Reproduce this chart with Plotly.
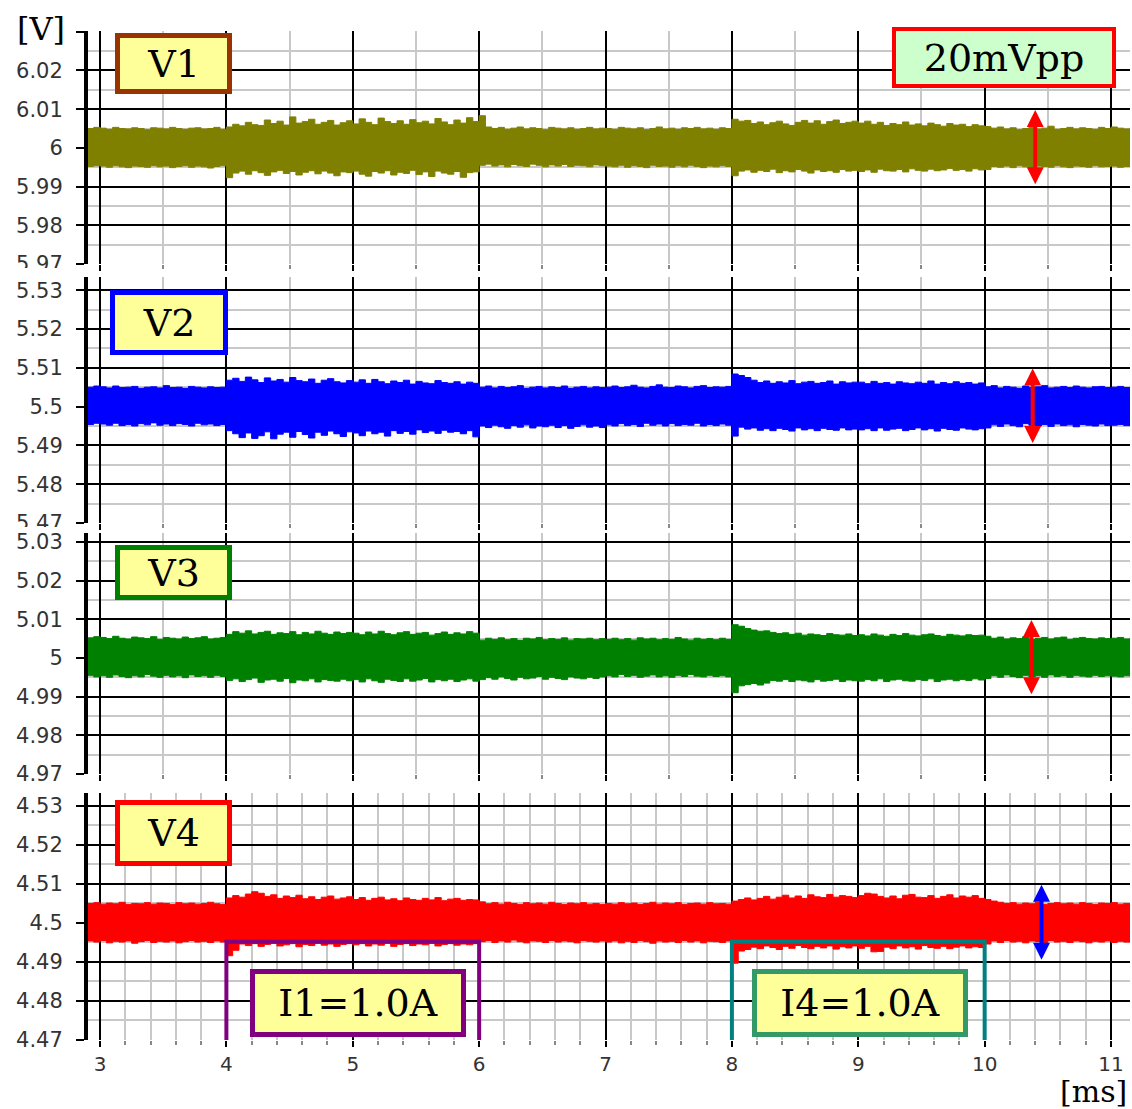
import plotly.graph_objects as go
from plotly.subplots import make_subplots

# ---------------- data ----------------
# envelopes sampled every 0.05 ms starting at 2.90 ms; values are the offset
# from the nominal voltage in mV (upper / lower edge of the ripple band)
T0, DT = 2.9, 0.05

NAMES = ["V1", "V2", "V3", "V4"]
NOMINAL = [6.0, 5.5, 5.0, 4.5]           # [V]
COLORS = ["#808000", "#0000FF", "#008000", "#FF0000"]

V1_UP = [5.0, 5.3,
         5.1, 4.8, 5.3, 5.0, 4.9, 5.2, 5.0, 4.7, 5.2, 5.1, 4.9, 5.3, 5.0, 4.8, 5.1, 5.2, 4.9, 5.0, 5.3, 4.8,
         5.4, 6.1, 5.7, 6.6, 6.0, 5.8, 7.2, 6.3, 6.9, 5.9, 8.0, 6.4, 6.8, 7.4, 6.1, 6.6, 7.1, 5.9, 6.5, 7.0,
         6.2, 7.5, 6.6, 6.0, 7.7, 6.8, 6.3, 7.0, 6.1, 7.3, 6.5, 6.9, 6.2, 7.6, 6.7, 6.0, 7.2, 6.4, 7.8, 6.8,
         8.3, 5.4, 5.0, 5.3, 4.8, 5.1, 5.4, 4.9, 5.2, 5.0, 4.7, 5.3, 5.1, 4.9, 5.2, 4.8, 5.0, 5.3, 4.9, 5.1,
         5.0, 4.8, 5.3, 5.1, 4.9, 5.2, 4.7, 5.0, 5.4, 4.9, 5.1, 4.8, 5.2, 5.0, 5.3, 4.9, 5.1, 4.8, 5.2, 5.0,
         7.4, 6.9, 7.1, 6.3, 6.7, 6.0, 6.5, 6.9, 6.2, 5.8, 6.6, 7.1, 6.4, 7.0, 6.1, 6.8, 7.2, 6.3, 6.6, 6.9,
         6.4, 6.9, 6.1, 6.6, 5.8, 6.3, 6.0, 6.7, 5.9, 6.2, 5.7, 6.4, 6.0, 5.6, 6.3, 5.9, 6.1, 5.5, 6.0, 5.7,
         5.5, 5.1, 5.4, 4.9, 5.2, 4.7, 5.0, 5.3, 4.9, 5.1, 5.6, 4.8, 5.0, 5.3, 4.9, 5.2, 5.0, 4.8, 5.3, 5.0,
         5.4, 5.1, 4.9, 5.2, 5.0]
V1_LO = [-4.8, -4.6,
         -4.7, -5.0, -4.6, -4.9, -5.1, -4.7, -4.8, -5.0, -4.6, -4.9, -4.7, -5.1, -4.8, -4.6, -5.0, -4.7, -4.9, -5.2, -4.8, -4.6,
         -7.7, -6.5, -6.0, -6.8, -5.9, -6.4, -7.1, -6.2, -5.8, -6.6, -6.1, -7.0, -6.3, -5.9, -6.7, -6.0, -6.5, -7.2, -6.2, -6.4,
         -6.0, -6.8, -7.3, -6.1, -6.5, -5.9, -7.0, -6.3, -6.6, -5.8, -6.9, -6.2, -7.4, -6.0, -6.5, -6.8, -6.1, -7.6, -6.4, -6.2,
         -4.5, -4.2, -4.7, -4.4, -4.9, -4.3, -4.6, -4.8, -4.2, -4.5, -4.9, -4.4, -4.7, -4.3, -4.8, -4.5, -4.6, -4.9, -4.4, -4.6,
         -4.7, -4.9, -4.5, -5.0, -4.6, -4.8, -5.1, -4.5, -4.8, -4.7, -5.0, -4.6, -4.9, -4.5, -4.8, -5.1, -4.7, -4.9, -4.6, -4.8,
         -7.2, -6.0, -5.7, -6.3, -5.8, -6.1, -5.5, -6.4, -5.9, -6.2, -5.6, -6.0, -6.5, -5.7, -6.1, -5.9, -6.3, -5.6, -6.0, -5.8,
         -6.1, -5.7, -6.3, -5.5, -5.9, -6.0, -5.6, -6.2, -5.4, -5.8, -6.0, -5.5, -5.9, -5.7, -5.3, -5.8, -5.6, -6.0, -5.4, -5.7,
         -5.6, -4.8, -5.0, -4.7, -5.1, -4.6, -4.9, -5.2, -4.7, -4.8, -5.0, -4.6, -4.9, -5.1, -4.7, -4.8, -5.0, -4.6, -4.9, -4.8,
         -4.7, -5.0, -4.8, -4.9, -4.7]

V2_UP = [5.0, 5.3,
         5.1, 4.8, 5.3, 4.9, 5.0, 5.2, 4.7, 5.0, 5.1, 4.8, 5.4, 4.9, 5.0, 4.7, 5.2, 5.0, 4.8, 5.1, 4.9, 5.0,
         6.8, 7.3, 6.5, 7.6, 6.9, 6.2, 7.4, 6.6, 7.0, 6.3, 7.5, 6.7, 6.4, 7.1, 6.0, 6.8, 7.2, 6.4, 6.1, 6.7,
         6.3, 6.9, 6.0, 7.0, 6.4, 5.9, 6.6, 6.2, 6.8, 5.8, 6.5, 6.1, 5.9, 6.7, 6.2, 6.0, 6.4, 5.8, 6.3, 6.0,
         5.0, 5.3, 4.8, 5.2, 4.9, 5.1, 5.4, 4.7, 5.0, 5.2, 4.8, 5.1, 4.9, 5.3, 4.7, 5.0, 5.2, 4.8, 5.1, 4.9,
         5.0, 5.3, 4.9, 5.1, 5.5, 5.0, 4.8, 5.2, 5.6, 5.0, 4.9, 5.3, 5.1, 4.8, 5.2, 5.4, 4.9, 5.1, 5.0, 5.2,
         8.4, 8.0, 7.5, 6.8, 6.2, 6.6, 6.0, 6.4, 6.1, 6.7, 5.9, 6.3, 6.5, 6.0, 6.2, 6.6, 5.8, 6.4, 6.1, 6.3,
         6.3, 5.9, 6.5, 6.0, 6.2, 5.8, 6.4, 6.1, 5.9, 6.3, 6.0, 6.6, 5.8, 6.2, 5.9, 6.4, 6.0, 6.2, 5.8, 6.1,
         5.1, 5.4, 4.8, 5.2, 5.0, 4.7, 5.3, 4.9, 5.1, 5.4, 4.8, 5.0, 5.2, 4.9, 5.3, 5.0, 4.8, 5.1, 5.2, 4.9,
         5.0, 5.2, 4.9, 5.1, 5.0]
V2_LO = [-4.6, -4.3,
         -4.5, -4.8, -4.3, -4.9, -4.6, -5.0, -4.4, -4.7, -4.2, -4.8, -4.5, -4.9, -4.4, -4.6, -5.0, -4.3, -4.7, -4.5, -4.9, -4.6,
         -6.2, -7.0, -8.0, -6.8, -8.2, -7.5, -6.5, -8.3, -7.1, -6.6, -7.9, -6.4, -7.2, -8.1, -6.6, -7.4, -6.3, -7.0, -7.7, -6.5,
         -6.8, -7.5, -6.3, -7.0, -6.6, -7.6, -6.2, -6.9, -6.4, -7.1, -6.0, -6.7, -6.3, -6.9, -6.1, -6.6, -6.4, -7.0, -6.2, -7.8,
         -5.0, -5.4, -4.8, -5.2, -5.6, -4.9, -5.3, -4.7, -5.5, -5.0, -5.2, -4.8, -5.4, -4.9, -5.6, -5.1, -4.7, -5.3, -5.0, -5.4,
         -4.7, -5.0, -4.4, -4.9, -4.6, -5.1, -4.3, -4.8, -4.5, -5.0, -4.4, -4.9, -4.6, -4.8, -4.3, -5.0, -4.6, -4.9, -4.5, -4.8,
         -7.6, -5.3, -5.8, -5.5, -6.1, -5.7, -6.2, -5.6, -5.9, -6.3, -5.5, -6.0, -5.7, -6.2, -5.6, -5.9, -6.1, -5.5, -6.0, -5.8,
         -6.0, -5.7, -6.2, -5.5, -6.1, -5.8, -5.6, -6.2, -5.9, -5.5, -6.0, -5.7, -6.3, -5.6, -5.9, -6.1, -5.5, -5.8, -6.0, -5.7,
         -5.5, -4.7, -5.1, -4.5, -4.9, -5.2, -4.4, -4.8, -5.0, -4.6, -5.1, -4.5, -4.9, -4.7, -5.2, -4.6, -4.8, -5.0, -4.5, -4.9,
         -4.8, -4.6, -4.9, -4.7, -4.8]

V3_UP = [5.2, 5.5,
         5.3, 5.0, 5.6, 5.1, 4.9, 5.4, 5.2, 5.0, 5.5, 4.8, 5.3, 5.1, 4.9, 5.4, 5.0, 5.2, 5.5, 4.9, 5.1, 5.3,
         6.1, 6.8, 6.4, 7.0, 6.2, 6.6, 6.9, 6.1, 6.5, 6.3, 6.8, 6.0, 6.6, 6.2, 6.9, 6.4, 6.1, 6.7, 6.3, 6.6,
         6.4, 6.0, 6.7, 6.2, 6.9, 6.3, 6.0, 6.5, 6.8, 6.1, 6.4, 6.6, 5.9, 6.3, 6.7, 6.1, 6.5, 6.2, 6.8, 6.4,
         4.6, 5.1, 4.8, 5.2, 4.7, 5.0, 4.5, 5.1, 4.9, 5.3, 4.7, 5.0, 4.8, 5.2, 4.6, 5.0, 4.9, 5.1, 4.7, 5.0,
         4.8, 5.1, 4.7, 5.0, 4.6, 5.2, 4.9, 5.1, 4.7, 5.0, 4.8, 5.3, 4.9, 4.6, 5.1, 4.8, 5.0, 4.7, 5.1, 4.8,
         8.6, 8.2, 7.6, 7.2, 6.9, 7.0, 6.6, 6.3, 6.5, 6.1, 6.4, 5.9, 6.2, 6.0, 5.8, 6.3, 6.0, 5.9, 6.2, 5.8,
         6.0, 5.7, 6.2, 5.9, 5.6, 6.1, 5.8, 6.3, 5.9, 5.7, 6.0, 6.2, 5.8, 5.6, 6.1, 5.9, 5.7, 6.0, 5.8, 5.9,
         5.6, 5.1, 5.4, 4.9, 5.2, 5.0, 5.5, 4.8, 5.1, 5.3, 4.9, 5.2, 5.4, 4.8, 5.1, 5.3, 5.0, 4.9, 5.2, 5.0,
         5.1, 5.3, 4.9, 5.2, 5.0]
V3_LO = [-4.5, -4.9,
         -4.6, -5.0, -4.4, -4.8, -5.1, -4.6, -4.9, -4.3, -4.7, -5.0, -4.5, -4.9, -4.6, -5.1, -4.4, -4.8, -4.6, -5.0, -4.5, -4.8,
         -5.8, -5.4, -6.1, -5.6, -5.2, -6.3, -5.7, -5.5, -6.0, -5.3, -6.4, -5.7, -5.9, -5.4, -6.2, -5.6, -5.8, -6.0, -5.5, -5.9,
         -5.6, -6.2, -5.4, -5.9, -6.3, -5.5, -5.8, -6.1, -5.4, -6.0, -5.7, -5.3, -6.2, -5.6, -5.9, -5.5, -6.1, -5.7, -5.4, -6.0,
         -5.6, -5.1, -5.5, -4.9, -5.3, -5.7, -5.0, -5.4, -5.2, -4.8, -5.5, -5.0, -5.3, -5.6, -4.9, -5.2, -5.4, -5.0, -5.3, -4.9,
         -4.6, -4.9, -4.3, -4.8, -4.5, -5.0, -4.7, -4.4, -4.9, -4.6, -5.0, -4.5, -4.8, -4.3, -4.7, -4.9, -4.5, -4.8, -4.6, -4.9,
         -9.0, -7.2, -6.9, -6.6, -7.0, -6.5, -5.8, -6.0, -5.6, -6.1, -5.7, -5.9, -6.2, -5.6, -6.0, -5.8, -5.5, -6.1, -5.7, -5.9,
         -6.0, -5.6, -5.9, -5.4, -6.1, -5.7, -5.5, -5.9, -6.0, -5.6, -5.8, -5.4, -6.1, -5.7, -5.5, -5.9, -5.6, -5.8, -5.4, -5.7,
         -5.3, -4.6, -5.0, -4.4, -4.8, -5.1, -4.5, -4.9, -4.6, -5.0, -4.4, -4.8, -4.6, -5.0, -4.5, -4.7, -4.9, -4.5, -4.8, -4.6,
         -4.7, -4.9, -4.6, -4.8, -4.7]

V4_UP = [5.0, 5.2,
         4.8, 5.1, 4.9, 5.3, 4.7, 5.0, 4.9, 5.2, 4.8, 5.1, 5.0, 4.7, 5.2, 4.9, 5.1, 4.8, 5.0, 5.3, 4.9, 4.7,
         6.4, 7.0, 6.6, 7.4, 8.0, 7.6, 6.8, 7.2, 6.3, 6.9, 6.5, 7.1, 6.2, 6.7, 6.0, 6.6, 6.9, 6.1, 6.4, 6.7,
         6.0, 6.5, 5.8, 6.3, 6.6, 5.9, 6.2, 5.7, 6.4, 6.0, 5.8, 6.3, 5.9, 6.5, 5.7, 6.1, 6.3, 5.8, 6.0, 5.9,
         5.4, 4.9, 5.2, 4.8, 5.3, 5.0, 4.7, 5.2, 4.9, 5.1, 4.8, 5.3, 5.0, 4.7, 5.1, 4.9, 5.2, 4.8, 5.0, 4.7,
         5.0, 4.8, 5.2, 4.9, 5.1, 4.7, 5.0, 5.3, 4.8, 5.1, 4.9, 5.2, 4.7, 5.0, 5.1, 4.8, 5.2, 4.9, 5.0, 4.8,
         5.6, 6.0, 6.4, 5.9, 6.3, 6.8, 6.1, 6.6, 7.1, 6.4, 6.9, 6.3, 7.2, 6.7, 6.5, 7.3, 6.6, 7.0, 6.8, 6.5,
         7.0, 7.6, 7.4, 6.8, 6.4, 6.9, 6.2, 7.1, 7.3, 6.6, 6.5, 7.0, 6.3, 6.8, 7.2, 6.4, 6.9, 6.6, 7.0, 6.3,
         6.0, 5.6, 5.3, 5.0, 5.2, 4.8, 5.1, 4.9, 5.3, 4.7, 5.0, 5.2, 4.9, 5.1, 4.8, 5.2, 5.0, 4.7, 5.1, 5.0,
         5.2, 4.8, 5.0, 4.9, 5.1]
V4_LO = [-4.6, -4.9,
         -4.5, -5.1, -4.7, -4.9, -4.6, -5.2, -4.8, -4.5, -5.0, -4.7, -4.9, -4.6, -5.1, -4.8, -4.5, -4.9, -4.7, -5.0, -4.6, -4.9,
         -8.4, -7.0, -5.4, -5.8, -5.3, -6.0, -5.5, -5.2, -5.9, -5.6, -5.3, -6.1, -5.5, -5.8, -5.2, -5.7, -5.4, -6.0, -5.5, -5.3,
         -5.6, -5.3, -5.9, -5.4, -5.7, -5.2, -6.0, -5.5, -5.3, -5.8, -5.4, -5.6, -5.2, -5.9, -5.5, -5.3, -5.7, -5.4, -5.6, -5.3,
         -4.8, -4.5, -5.0, -4.6, -4.9, -4.4, -4.8, -5.1, -4.6, -4.7, -5.0, -4.5, -4.9, -4.6, -4.8, -5.1, -4.5, -4.7, -4.9, -4.6,
         -4.9, -4.6, -5.1, -4.7, -5.0, -4.5, -4.8, -5.2, -4.6, -4.9, -4.7, -5.0, -4.5, -4.9, -4.6, -5.1, -4.7, -4.8, -5.0, -4.6,
         -10.3, -7.2, -6.8, -6.2, -6.6, -5.9, -6.3, -6.8, -6.0, -6.5, -5.8, -6.3, -6.6, -6.0, -6.4, -5.9, -6.7, -6.1, -6.4, -5.9,
         -6.5, -6.0, -7.4, -7.3, -6.2, -6.6, -5.9, -6.4, -6.1, -6.7, -5.8, -6.3, -6.5, -6.0, -6.6, -6.2, -5.9, -6.4, -6.1, -6.3,
         -5.4, -4.6, -5.0, -4.5, -4.9, -4.7, -5.1, -4.6, -4.8, -5.0, -4.5, -4.9, -4.7, -5.0, -4.6, -4.8, -5.1, -4.7, -4.9, -4.6,
         -5.0, -4.7, -4.9, -4.8, -4.7]

UPPER = [V1_UP, V2_UP, V3_UP, V4_UP]
LOWER = [V1_LO, V2_LO, V3_LO, V4_LO]

# tick labels
X_TICKS = [3, 4, 5, 6, 7, 8, 9, 10, 11]
X_LABELS = ["3", "4", "5", "6", "7", "8", "9", "10", "11"]
Y_LABELS = [
    ["5.97", "5.98", "5.99", "6", "6.01", "6.02", ""],
    ["5.47", "5.48", "5.49", "5.5", "5.51", "5.52", "5.53"],
    ["4.97", "4.98", "4.99", "5", "5.01", "5.02", "5.03"],
    ["4.47", "4.48", "4.49", "4.5", "4.51", "4.52", "4.53"],
]
PP_LABEL = "20mVpp"
LOAD_LABELS = ["I1=1.0A", "I4=1.0A"]
LOAD_SPANS = [(4, 6), (8, 10)]      # ms
PP_ARROW_X = [10.4, 10.38, 10.37, 10.45]

# ---------------- layout geometry ----------------
W, H = 1132, 1109
ML, MR = 88, 2
PW = W - ML - MR
PANEL_PX = [(31, 264), (277, 523), (533, 774), (793, 1040)]   # top, bottom pixel
Y_TOP_OFF = [0.0302, 0.0334, 0.0323, 0.0333]
X_RANGE = [2.905, 11.15]


def px(xp):
    return (xp - ML) / PW


def py(yp):
    return 1 - yp / H


fig = make_subplots(rows=4, cols=1, shared_xaxes=False, vertical_spacing=0.01)

for i in range(4):
    n = NOMINAL[i]
    c = COLORS[i]
    up, lo = UPPER[i], LOWER[i]
    fig.add_trace(go.Scatter(x=[round(T0 + DT * k, 2) for k in range(len(up))],
                             y=[n + u / 1000 for u in up], mode="lines",
                             line=dict(color=c, width=1, shape="hv"),
                             hoverinfo="skip", showlegend=False), row=i + 1, col=1)
    fig.add_trace(go.Scatter(x=[round(T0 + DT * k, 2) for k in range(len(lo))],
                             y=[n + l / 1000 for l in lo], mode="lines",
                             line=dict(color=c, width=1, shape="hv"),
                             fill="tonexty", fillcolor=c,
                             hoverinfo="skip", showlegend=False), row=i + 1, col=1)

ytickfont = dict(family="DejaVu Sans", size=21, color="#333333")
xtickfont = dict(family="DejaVu Sans", size=20, color="#333333")

for i in range(4):
    n = NOMINAL[i]
    top, bot = PANEL_PX[i]
    ax = "" if i == 0 else str(i + 1)
    last = (i == 3)
    fig.layout["xaxis" + ax].update(
        domain=[0, 1], range=X_RANGE, tickmode="array", tickvals=X_TICKS,
        ticktext=X_LABELS, showticklabels=last, tickfont=xtickfont,
        showgrid=True, gridcolor="black", gridwidth=2,
        ticks="outside", ticklen=6, tickwidth=2, tickcolor="black",
        minor=dict(tick0=3, dtick=0.2 if last else 0.5, showgrid=True,
                   gridcolor="#C8C8C8", gridwidth=2, ticks="outside",
                   ticklen=4, tickcolor="#888888"),
        zeroline=False, showline=False, fixedrange=True,
    )
    fig.layout["yaxis" + ax].update(
        domain=[py(bot), py(top)], range=[n - 0.03, n + Y_TOP_OFF[i]],
        tickmode="array", tickvals=[round(n - 0.03 + 0.01 * k, 3) for k in range(7)],
        ticktext=Y_LABELS[i], tickfont=ytickfont,
        showgrid=True, gridcolor="black", gridwidth=2,
        ticks="outside", ticklen=8, tickwidth=2, tickcolor="black",
        ticklabelstandoff=9,
        minor=dict(dtick=0.005, tick0=n, showgrid=True, gridcolor="#C8C8C8", gridwidth=2),
        zeroline=False, showline=True, linecolor="black", linewidth=4,
    )

annotations = []
serif = "DejaVu Serif"


def box(text, cx, cy, w, h, border, fill, bw=5):
    annotations.append(dict(
        text=text, x=px(cx), y=py(cy), xref="paper", yref="paper",
        xanchor="center", yanchor="middle", showarrow=False,
        font=dict(family=serif, size=38, color="black"),
        bgcolor=fill, bordercolor=border, borderwidth=bw, borderpad=0,
        width=w - 2 * bw, height=h - 2 * bw,
    ))


box(NAMES[0], 173.5, 63.5, 117, 61, "#993300", "#FFFF99")
box(NAMES[1], 169, 322.5, 118, 65, "#0000FF", "#FFFF99")
box(NAMES[2], 173.5, 572.5, 117, 55, "#008000", "#FFFF99")
box(NAMES[3], 173.5, 833, 117, 66, "#FF0000", "#FFFF99")
box(PP_LABEL, 1004, 57.5, 224, 61, "#FF0000", "#CCFFCC", bw=4)
box(LOAD_LABELS[0], 358, 1003, 216, 68, "#800080", "#FFFF99")
box(LOAD_LABELS[1], 860, 1003, 216, 68, "#339966", "#FFFF99")

annotations.append(dict(text="[V]", x=px(41), y=py(29), xref="paper", yref="paper",
                        xanchor="center", yanchor="middle", showarrow=False,
                        font=dict(family=serif, size=32, color="black")))
annotations.append(dict(text="[ms]", x=px(1093), y=py(1091), xref="paper", yref="paper",
                        xanchor="center", yanchor="middle", showarrow=False,
                        font=dict(family=serif, size=30, color="black")))

# peak-to-peak double arrows (+-10 mV)
arrow_colors = ["#FF0000", "#FF0000", "#FF0000", "#0000FF"]
for i in range(4):
    ax = "" if i == 0 else str(i + 1)
    n = NOMINAL[i]
    annotations.append(dict(
        text="", x=PP_ARROW_X[i], y=n + 0.0098, ax=PP_ARROW_X[i], ay=n - 0.0098,
        xref="x" + ax, yref="y" + ax, axref="x" + ax, ayref="y" + ax,
        showarrow=True, arrowside="end+start", arrowhead=2, arrowsize=0.85,
        arrowwidth=4, arrowcolor=arrow_colors[i], standoff=0, startstandoff=0,
    ))

fig.update_layout(annotations=annotations)

# load-step brackets in panel 4
bracket_colors = ["#800080", "#008080"]
shapes = []
for (a, b), col in zip(LOAD_SPANS, bracket_colors):
    shapes.append(dict(type="path", xref="x4", yref="y4",
                       path=f"M {a},4.47 L {a},4.4952 L {b},4.4952 L {b},4.47",
                       line=dict(color=col, width=4), layer="above"))
# the reference clips the lowest tick label of panels 1 and 2 at the panel edge
for y0p, y1p in [(268, 276), (527, 533)]:
    shapes.append(dict(type="rect", xref="paper", yref="paper",
                       x0=px(0), x1=px(76), y0=py(y1p), y1=py(y0p),
                       fillcolor="white", line=dict(width=0), layer="above"))
fig.update_layout(shapes=shapes)

fig.update_layout(
    width=W, height=H, margin=dict(l=ML, r=MR, t=0, b=0, autoexpand=False),
    paper_bgcolor="white", plot_bgcolor="white", showlegend=False,
)

fig.write_html("out.html", config={"displayModeBar": False})
